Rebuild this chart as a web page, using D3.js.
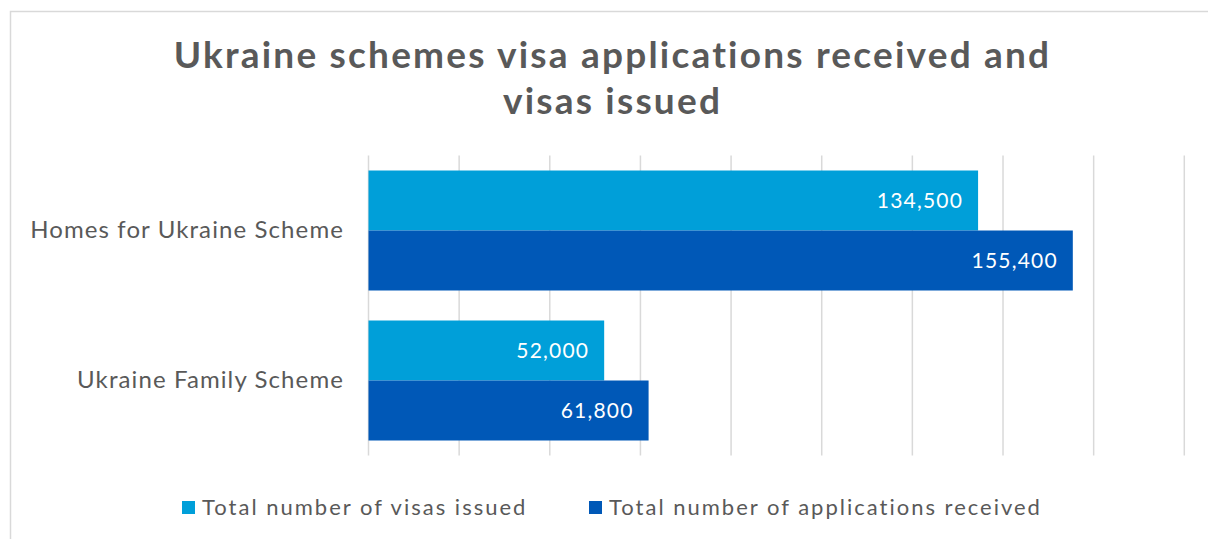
<!DOCTYPE html>
<html>
<head>
<meta charset="utf-8">
<script src="https://cdn.jsdelivr.net/npm/d3@7"></script>
<style>
  html, body { margin: 0; padding: 0; background: #ffffff; }
  svg { display: block; font-family: "Lato", "DejaVu Sans", sans-serif; }
</style>
</head>
<body>
<svg id="chart" width="1208" height="539"></svg>
<script>
// Ukraine schemes: visas issued vs applications received
const categories = ["Homes for Ukraine Scheme", "Ukraine Family Scheme"];
const seriesNames = ["Total number of visas issued", "Total number of applications received"];
const visasIssued = [134500, 52000];
const applicationsReceived = [155400, 61800];
const axisTicks = [0, 20000, 40000, 60000, 80000, 100000, 120000, 140000, 160000, 180000];
const titleLines = ["Ukraine schemes visa applications received and", "visas issued"];

const colors = ["#009fd9", "#0058b7"];
const textColor = "#595959";
const gridColor = "#d9d9d9";

const width = 1208, height = 539;
const plot = { left: 368.5, right: 1184.3, top: 155.5, bottom: 455.5 };

const svg = d3.select("#chart");

// chart area frame
svg.append("rect")
  .attr("x", 10.5).attr("y", 11.5)
  .attr("width", width + 20).attr("height", height + 20)
  .attr("fill", "#ffffff").attr("stroke", gridColor).attr("stroke-width", 1.5);

// title
svg.append("g").selectAll("text")
  .data(titleLines)
  .join("text")
  .attr("x", 612.5)
  .attr("y", (d, i) => 67.5 + i * 46)
  .attr("text-anchor", "middle")
  .attr("fill", textColor)
  .attr("font-size", 37)
  .attr("font-weight", 700)
  .attr("letter-spacing", 2.2)
  .text(d => d);

const x = d3.scaleLinear()
  .domain([0, d3.max(axisTicks)])
  .range([plot.left, plot.right]);

const y = d3.scaleBand()
  .domain(categories)
  .range([plot.top, plot.bottom])
  .paddingInner(0.2)
  .paddingOuter(0.1);

const ySub = d3.scaleBand()
  .domain(d3.range(seriesNames.length))
  .range([0, y.bandwidth()]);

// vertical gridlines
svg.append("g")
  .selectAll("line")
  .data(axisTicks)
  .join("line")
  .attr("x1", d => x(d)).attr("x2", d => x(d))
  .attr("y1", plot.top).attr("y2", plot.bottom)
  .attr("stroke", gridColor)
  .attr("stroke-width", 1.5);

// bars
const rows = categories.map((c, i) => ({
  category: c,
  values: [visasIssued[i], applicationsReceived[i]]
}));

const groups = svg.append("g")
  .selectAll("g")
  .data(rows)
  .join("g")
  .attr("transform", d => `translate(0,${y(d.category)})`);

groups.selectAll("rect")
  .data(d => d.values.map((v, s) => ({ v, s })))
  .join("rect")
  .attr("x", x(0))
  .attr("y", d => ySub(d.s))
  .attr("width", d => x(d.v) - x(0))
  .attr("height", ySub.bandwidth())
  .attr("fill", d => colors[d.s]);

// value labels inside bar ends
const fmt = d3.format(",");
groups.selectAll("text")
  .data(d => d.values.map((v, s) => ({ v, s })))
  .join("text")
  .attr("x", d => x(d.v) - 15)
  .attr("y", d => ySub(d.s) + ySub.bandwidth() / 2)
  .attr("dy", "0.36em")
  .attr("text-anchor", "end")
  .attr("fill", "#ffffff")
  .attr("font-size", 21)
  .attr("letter-spacing", 1.2)
  .text(d => fmt(d.v));

// category axis labels
svg.append("g")
  .selectAll("text")
  .data(categories)
  .join("text")
  .attr("x", 344)
  .attr("y", d => y(d) + y.bandwidth() / 2)
  .attr("dy", "0.32em")
  .attr("text-anchor", "end")
  .attr("fill", textColor)
  .attr("font-size", 24)
  .attr("letter-spacing", 1.1)
  .text(d => d);

// legend
const legendX = [182, 589];
const legend = svg.append("g")
  .selectAll("g")
  .data(seriesNames)
  .join("g")
  .attr("transform", (d, i) => `translate(${legendX[i]},501)`);

legend.append("rect")
  .attr("width", 13).attr("height", 13)
  .attr("fill", (d, i) => colors[i]);

legend.append("text")
  .attr("x", 20)
  .attr("y", 13.5)
  .attr("fill", textColor)
  .attr("font-size", 22)
  .attr("letter-spacing", 2.0)
  .text(d => d);
</script>
</body>
</html>
